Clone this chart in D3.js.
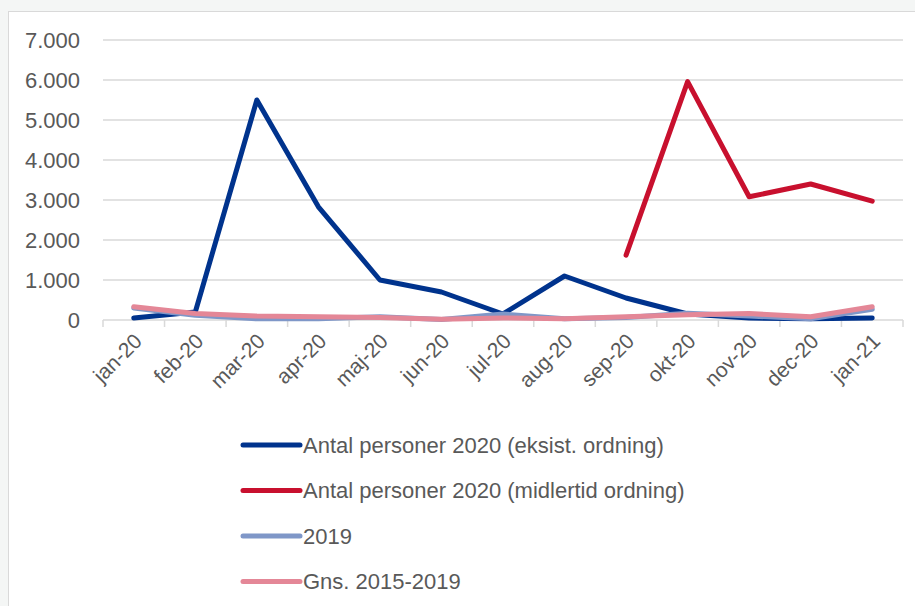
<!DOCTYPE html>
<html>
<head>
<meta charset="utf-8">
<script src="https://cdn.jsdelivr.net/npm/d3@7"></script>
<style>
  html, body { margin: 0; padding: 0; background: #f4f6f5; }
  svg { display: block; font-family: "Liberation Sans", Arial, sans-serif; }
</style>
</head>
<body>
<div id="chart"></div>
<script>
const months = ["jan-20", "feb-20", "mar-20", "apr-20", "maj-20", "jun-20", "jul-20",
  "aug-20", "sep-20", "okt-20", "nov-20", "dec-20", "jan-21"];
const eksist = [50, 200, 5500, 2830, 1000, 700, 150, 1100, 550, 150, 50, 30, 50];
const midlertid = [null, null, null, null, null, null, null, null, 1620, 5960, 3080, 3400, 2970];
const y2019 = [300, 120, 30, 30, 80, 10, 150, 30, 60, 170, 100, 30, 270];
const gns = [330, 160, 100, 80, 60, 20, 50, 30, 80, 130, 160, 80, 330];
const yTicks = [0, 1000, 2000, 3000, 4000, 5000, 6000, 7000];

const series = [
  { name: "Antal personer 2020 (eksist. ordning)", values: eksist, color: "#00338d" },
  { name: "Antal personer 2020 (midlertid ordning)", values: midlertid, color: "#c8102e" },
  { name: "2019", values: y2019, color: "#7f97c8" },
  { name: "Gns. 2015-2019", values: gns, color: "#e48797" },
];

const W = 915, H = 606;
const margin = { top: 40, right: 12, bottom: 286, left: 103 };
const width = W - margin.left - margin.right;
const height = H - margin.top - margin.bottom;

const svg = d3.select("#chart").append("svg").attr("width", W).attr("height", H);

// white panel
svg.append("rect")
  .attr("x", 8.5).attr("y", 11.5)
  .attr("width", W).attr("height", H)
  .attr("fill", "#fff").attr("stroke", "#d9d9d9");

const g = svg.append("g").attr("transform", `translate(${margin.left},${margin.top})`);

const x = d3.scaleBand().domain(months).range([0, width]);
const y = d3.scaleLinear().domain([0, 7000]).range([height, 0]);
const fmt = (d) => d3.format(",")(d).replace(/,/g, ".");

// gridlines
g.selectAll(".grid")
  .data(yTicks)
  .enter()
  .append("line")
  .attr("x1", 0).attr("x2", width)
  .attr("y1", (d) => y(d)).attr("y2", (d) => y(d))
  .attr("stroke", "#d9d9d9").attr("stroke-width", 1.5);

// y labels
g.selectAll(".ylab")
  .data(yTicks)
  .enter()
  .append("text")
  .attr("x", -23)
  .attr("y", (d) => y(d))
  .attr("dy", "0.36em")
  .attr("text-anchor", "end")
  .attr("fill", "#595959")
  .style("font-size", "22px")
  .text(fmt);

// x axis ticks
const tickPos = months.map((m) => x(m)).concat([width]);
g.selectAll(".xtick")
  .data(tickPos)
  .enter()
  .append("line")
  .attr("x1", (d) => d).attr("x2", (d) => d)
  .attr("y1", height).attr("y2", height + 7)
  .attr("stroke", "#d9d9d9").attr("stroke-width", 1.5);

g.selectAll(".xlab")
  .data(months)
  .enter()
  .append("text")
  .attr("transform", (d) => `translate(${x(d) + x.bandwidth() / 2 - 1},${height + 12}) rotate(-45)`)
  .attr("text-anchor", "end")
  .attr("dy", "0.7em")
  .attr("fill", "#595959")
  .style("font-size", "21px")
  .text((d) => d);

// lines
const line = d3.line()
  .defined((d) => d != null)
  .x((d, i) => x(months[i]) + x.bandwidth() / 2)
  .y((d) => y(d));

g.selectAll(".series")
  .data(series)
  .enter()
  .append("path")
  .attr("d", (d) => line(d.values))
  .attr("fill", "none")
  .attr("stroke", (d) => d.color)
  .attr("stroke-width", 5)
  .attr("stroke-linecap", "round")
  .attr("stroke-linejoin", "round");

// legend
const legend = svg.selectAll(".legend")
  .data(series)
  .enter()
  .append("g")
  .attr("transform", (d, i) => `translate(243,${445 + i * 45.5})`);

legend.append("line")
  .attr("x1", 0).attr("x2", 57)
  .attr("stroke", (d) => d.color)
  .attr("stroke-width", 5)
  .attr("stroke-linecap", "round");

legend.append("text")
  .attr("x", 60)
  .attr("dy", "0.36em")
  .attr("fill", "#595959")
  .style("font-size", "22px")
  .text((d) => d.name);
</script>
</body>
</html>
